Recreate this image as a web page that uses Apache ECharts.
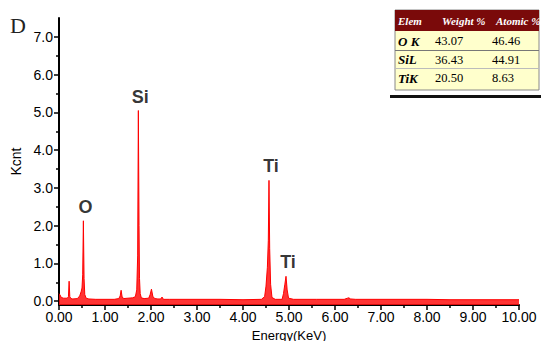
<!DOCTYPE html>
<html>
<head>
<meta charset="utf-8">
<script src="https://cdn.jsdelivr.net/npm/echarts@6/dist/echarts.min.js"></script>
<style>html,body{margin:0;padding:0;background:#fff;}#c{width:541px;height:341px;}</style>
</head>
<body>
<div id="c"></div>
<script>
// Spectrum (energy in KeV, counts in Kcnt)
var energy = [0.00,0.02,0.05,0.10,0.18,0.205,0.22,0.235,0.26,0.30,0.40,0.45,0.48,0.50,0.515,0.53,0.545,0.56,0.59,0.65,0.80,1.00,1.20,1.30,1.33,1.35,1.37,1.40,1.50,1.60,1.66,1.69,1.71,1.725,1.74,1.75,1.765,1.79,1.85,1.95,1.98,2.01,2.04,2.08,2.15,2.21,2.24,2.27,2.40,3.00,3.50,4.00,4.40,4.47,4.50,4.53,4.55,4.565,4.58,4.60,4.63,4.70,4.85,4.88,4.91,4.935,4.96,4.99,5.10,5.60,6.20,6.27,6.30,6.34,6.45,7.00,7.50,8.00,8.50,9.00,9.50,10.00];
var counts = [0.20,0.17,0.10,0.08,0.08,0.12,0.53,0.12,0.07,0.06,0.07,0.14,0.25,0.35,0.70,2.13,0.60,0.18,0.08,0.06,0.05,0.05,0.05,0.07,0.14,0.29,0.13,0.07,0.08,0.09,0.12,0.30,1.20,5.05,2.00,0.60,0.20,0.09,0.07,0.08,0.17,0.32,0.13,0.07,0.06,0.06,0.11,0.05,0.05,0.05,0.05,0.04,0.05,0.12,0.40,0.90,1.60,3.20,1.40,0.45,0.10,0.05,0.05,0.20,0.45,0.66,0.30,0.08,0.05,0.05,0.05,0.08,0.09,0.06,0.05,0.05,0.05,0.05,0.04,0.04,0.04,0.04];

// Peak labels
var peakNames = ['O','Si','Ti','Ti'];
var peakEnergy = [0.53,1.725,4.565,4.935];
var peakHeight = [2.13,5.05,3.20,0.66];

// Tick labels
var xTicks = [0,1,2,3,4,5,6,7,8,9,10];
var yTicks = [0,1,2,3,4,5,6,7];
var yMinorTicks = [0.5,1.5,2.5,3.5,4.5,5.5,6.5];

// Table
var tableHeader = ['Elem','Weight %','Atomic %'];
var tableElem = ['O K','SiL','TiK'];
var weightPct = ['43.07','36.43','20.50'];
var atomicPct = ['46.46','44.91','8.63'];

var spectrum = energy.map(function(e,i){return [e,counts[i]];});
var peaks = peakEnergy.map(function(e,i){return [e,peakHeight[i],peakNames[i]];});

var chart = echarts.init(document.getElementById('c'), null, {renderer:'svg'});

var serif = '"Liberation Serif","DejaVu Serif",serif';
var tX = 395, tW = 144;
var colX = [398, 442, 496];
var rowY = [41, 59.5, 78];
var graphics = [
  {type:'text', left:10, top:14, style:{text:'D', font:'22px '+serif, fill:'#222'}},
  {type:'rect', shape:{x:390, y:95, width:151, height:3}, style:{fill:'#111'}},
  {type:'rect', shape:{x:tX, y:10, width:tW, height:80}, style:{fill:'#ffffcc', stroke:'#888', lineWidth:1}},
  {type:'rect', shape:{x:tX, y:10, width:tW, height:21}, style:{fill:'#7a0a0a'}},
  {type:'line', shape:{x1:tX, y1:50.5, x2:tX+tW, y2:50.5}, style:{stroke:'#777', lineWidth:1}},
  {type:'line', shape:{x1:tX, y1:68.5, x2:tX+tW, y2:68.5}, style:{stroke:'#bbb', lineWidth:1}}
];
tableHeader.forEach(function(h,j){
  graphics.push({type:'text', x:colX[j], y:20.5, style:{text:h, font:'italic bold 11px '+serif, fill:'#fff', verticalAlign:'middle'}});
});
tableElem.forEach(function(el,i){
  graphics.push({type:'text', x:colX[0], y:rowY[i], style:{text:el, font:'italic bold 13px '+serif, fill:'#000', verticalAlign:'middle'}});
  graphics.push({type:'text', x:435, y:rowY[i], style:{text:weightPct[i], font:'12.5px '+serif, fill:'#000', verticalAlign:'middle'}});
  graphics.push({type:'text', x:492, y:rowY[i], style:{text:atomicPct[i], font:'12.5px '+serif, fill:'#000', verticalAlign:'middle'}});
});

var sans = 'Arial, "Liberation Sans", sans-serif';
chart.setOption({
  animation:false,
  backgroundColor:'#fff',
  grid:{left:59, right:22, top:18, bottom:36, containLabel:false, outerBoundsMode:'none'},
  xAxis:{
    type:'value', min:0, max:10, interval:1,
    name:'Energy(KeV)', nameLocation:'middle', nameGap:18,
    nameTextStyle:{fontFamily:sans, fontSize:13, color:'#000', lineHeight:13},
    axisLine:{onZero:false, lineStyle:{color:'#000', width:2}},
    axisTick:{inside:false, length:5, lineStyle:{color:'#000', width:1.5}},
    minorTick:{show:true, splitNumber:2, length:3, lineStyle:{color:'#000', width:1.5}},
    axisLabel:{fontFamily:sans, fontSize:14, color:'#000', margin:5, formatter:function(v){return v.toFixed(2);}},
    splitLine:{show:false}
  },
  yAxis:[{
    type:'value', min:-0.1, max:7.5,
    name:'Kcnt', nameLocation:'middle', nameGap:28, nameRotate:90,
    nameTextStyle:{fontFamily:sans, fontSize:14, color:'#000'},
    axisLine:{show:true, lineStyle:{color:'#000', width:2}},
    axisTick:{show:true, length:5, customValues:yTicks, lineStyle:{color:'#000', width:1.5}},
    axisLabel:{fontFamily:sans, fontSize:14, color:'#000', margin:6, customValues:yTicks, formatter:function(v){return v.toFixed(1);}},
    splitLine:{show:false}
  },{
    type:'value', min:-0.1, max:7.5, position:'left',
    axisLine:{show:false},
    axisTick:{show:true, length:3, customValues:yMinorTicks, lineStyle:{color:'#000', width:1.5}},
    axisLabel:{show:false},
    splitLine:{show:false}
  }],
  series:[{
    type:'line', data:spectrum, symbol:'none', yAxisIndex:0,
    lineStyle:{color:'#ff0000', width:1},
    areaStyle:{color:'#ff1010', opacity:0.85, origin:'start'},
    z:2
  },{
    type:'scatter', data:peaks, symbolSize:0, yAxisIndex:0,
    label:{show:true, position:'top', distance:5, offset:[2,0], formatter:function(p){return p.data[2];},
      fontFamily:sans, fontWeight:'bold', fontSize:18, color:'#000'},
    z:3
  }],
  graphic:graphics
});
</script>
</body>
</html>
